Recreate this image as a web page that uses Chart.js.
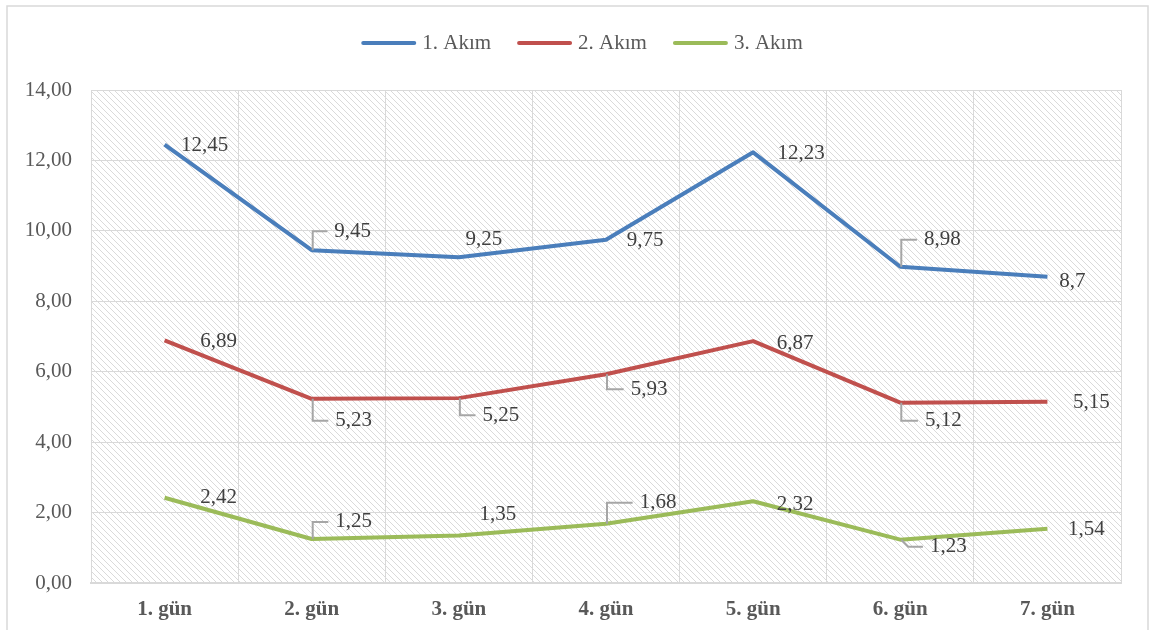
<!DOCTYPE html>
<html>
<head>
<meta charset="utf-8">
<script src="https://cdn.jsdelivr.net/npm/chart.js@4/dist/chart.umd.min.js"></script>
<style>
  body { margin: 0; background: #fff; }
  canvas { display: block; }
</style>
</head>
<body>
<canvas id="chart" width="1150" height="630"></canvas>
<script>
const days = ["1. gün", "2. gün", "3. gün", "4. gün", "5. gün", "6. gün", "7. gün"]
const seriesNames = ["1. Akım", "2. Akım", "3. Akım"]
const akim1 = [12.45, 9.45, 9.25, 9.75, 12.23, 8.98, 8.7]
const akim2 = [6.89, 5.23, 5.25, 5.93, 6.87, 5.12, 5.15]
const akim3 = [2.42, 1.25, 1.35, 1.68, 2.32, 1.23, 1.54]
const yTicks = [0, 2, 4, 6, 8, 10, 12, 14]

const colors = ["#4a7ebb", "#c0504d", "#9bbb59"]
const serif = "'Liberation Serif', 'Times New Roman', serif"

// where each data label sits relative to its point: [dx, dy, leader line?]
const labelPlacement = [
  [[40, 1], [41, -19, 1], [25, -18], [39, 1], [48, 1], [42, -27, 1], [25, 5]],
  [[54, 1], [42, 22, 1], [42, 17, 1], [43, 15, 1], [42, 2], [43, 18, 1], [44, 1]],
  [[54, 0], [42, -17, 1], [39, -21], [52, -21, 1], [42, 3], [48, 7, 1], [39, 1]]
]

const fmt = v => v.toString().replace(".", ",")

// diagonal hatch for the plot background
function hatchPattern(ctx) {
  const t = document.createElement("canvas")
  t.width = 6
  t.height = 6
  const c = t.getContext("2d")
  c.strokeStyle = "#dadada"
  c.lineWidth = 1
  c.beginPath()
  c.moveTo(-1, -1); c.lineTo(7, 7)
  c.moveTo(-1, 5); c.lineTo(1, 7)
  c.moveTo(5, -1); c.lineTo(7, 1)
  c.stroke()
  return ctx.createPattern(t, "repeat")
}

const backdrop = {
  id: "backdrop",
  beforeDraw(chart) {
    const { ctx, chartArea: a } = chart
    ctx.save()
    ctx.strokeStyle = "#d9d9d9"
    ctx.lineWidth = 1.5
    ctx.strokeRect(7, 6, 1141, 660)
    ctx.fillStyle = hatchPattern(ctx)
    ctx.fillRect(a.left, a.top, a.right - a.left, a.bottom - a.top)
    ctx.restore()
  },
  afterDraw(chart) {
    // legend
    const { ctx } = chart
    ctx.save()
    ctx.font = "21px " + serif
    ctx.textBaseline = "middle"
    const lineLen = 55, gap = 6, itemGap = 26
    const widths = chart.data.datasets.map(d => ctx.measureText(d.label).width)
    const total = widths.reduce((s, w) => s + lineLen + gap + w, 0) + itemGap * (widths.length - 1)
    let x = 582 - total / 2
    const y = 43
    chart.data.datasets.forEach((d, i) => {
      ctx.strokeStyle = d.borderColor
      ctx.lineWidth = 4
      ctx.lineCap = "round"
      ctx.beginPath()
      ctx.moveTo(x + 2, y)
      ctx.lineTo(x + lineLen - 2, y)
      ctx.stroke()
      ctx.fillStyle = "#595959"
      ctx.fillText(d.label, x + lineLen + gap, y)
      x += lineLen + gap + widths[i] + itemGap
    })
    ctx.restore()
  }
}

const dataLabels = {
  id: "dataLabels",
  afterDatasetsDraw(chart) {
    const { ctx } = chart
    ctx.save()
    ctx.font = "21px " + serif
    ctx.textAlign = "center"
    ctx.textBaseline = "middle"
    chart.data.datasets.forEach((ds, di) => {
      chart.getDatasetMeta(di).data.forEach((pt, i) => {
        const [dx, dy, leader] = labelPlacement[di][i]
        const text = fmt(ds.data[i])
        const cx = pt.x + dx, cy = pt.y + dy
        if (leader) {
          const w = ctx.measureText(text).width
          ctx.strokeStyle = "#a6a6a6"
          ctx.lineWidth = 2
          ctx.beginPath()
          ctx.moveTo(pt.x + 1, pt.y)
          if (Math.abs(dy) < 10) {
            // short drop: slanted leader
            ctx.lineTo(pt.x + 8, cy)
          } else {
            ctx.lineTo(pt.x + 1, cy)
          }
          ctx.lineTo(cx - w / 2 - 7, cy)
          ctx.stroke()
        }
        ctx.fillStyle = "#404040"
        ctx.fillText(text, cx, cy)
      })
    })
    ctx.restore()
  }
}

const series = [akim1, akim2, akim3]

new Chart(document.getElementById("chart"), {
  type: "line",
  data: {
    labels: days,
    datasets: series.map((data, i) => ({
      label: seriesNames[i],
      data: data,
      borderColor: colors[i],
      backgroundColor: colors[i],
      borderWidth: 4,
      pointRadius: 0,
      tension: 0,
      borderJoinStyle: "round"
    }))
  },
  options: {
    responsive: false,
    animation: false,
    layout: { padding: { top: 90, right: 29, left: 0, bottom: 0 } },
    plugins: {
      legend: { display: false },
      tooltip: { enabled: false }
    },
    scales: {
      x: {
        offset: true,
        grid: { offset: true, color: "#d9d9d9", lineWidth: 1, drawTicks: false },
        border: { color: "#d9d9d9", width: 2 },
        ticks: {
          padding: 14,
          color: "#595959",
          font: { family: serif, size: 21, weight: "bold" }
        },
        afterFit(scale) { scale.height = 47 }
      },
      y: {
        min: 0,
        max: 14,
        afterBuildTicks(scale) { scale.ticks = yTicks.map(v => ({ value: v })) },
        grid: { color: "#d9d9d9", lineWidth: 1, drawTicks: false },
        border: { color: "#d9d9d9", width: 1 },
        ticks: {
          padding: 19,
          color: "#595959",
          font: { family: serif, size: 21 },
          callback: v => v.toFixed(2).replace(".", ",")
        },
        afterFit(scale) { scale.width = 91 }
      }
    }
  },
  plugins: [backdrop, dataLabels]
})
</script>
</body>
</html>
